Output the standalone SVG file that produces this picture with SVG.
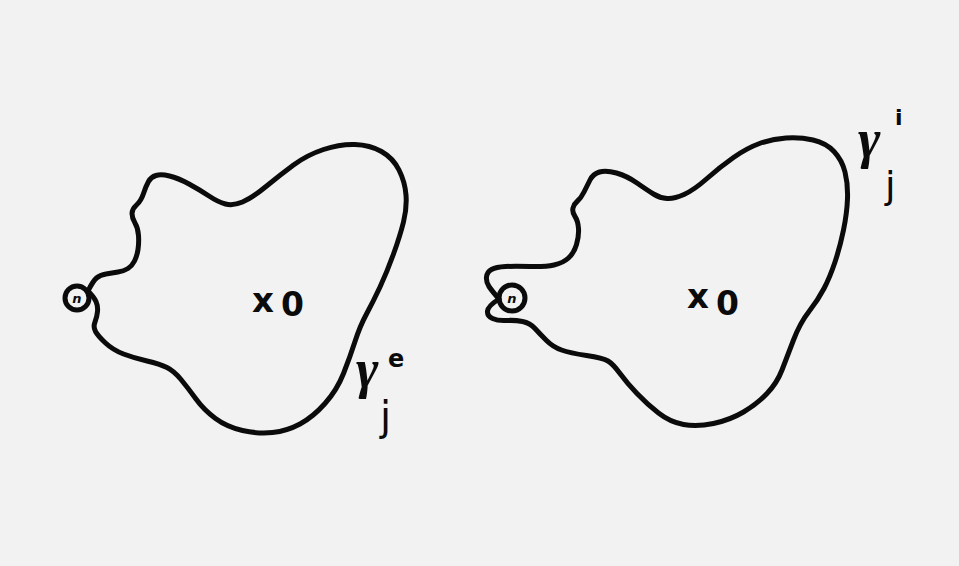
<svg xmlns="http://www.w3.org/2000/svg" width="959" height="566" viewBox="0 0 959 566">
<style>
.ink{fill:none;stroke:#0b0b0b;stroke-width:5;stroke-linecap:round;stroke-linejoin:round}
.lbl{font-family:"DejaVu Sans",sans-serif;fill:#0b0b0b}
.gam{font-family:"Liberation Serif",serif;font-style:italic;fill:#0b0b0b;font-weight:bold}
.pt{font-family:"DejaVu Sans",sans-serif;fill:#0b0b0b;font-weight:bold}
</style>
<rect x="0" y="0" width="959" height="566" fill="#f2f2f2"/>
<g id="left-figure">
<path class="ink" d="M88,291 Q93,281 96.5,278 Q100,275 106,274 Q112,273 118,272 Q124,271 128,268.5 Q132,266 134.5,261 Q137,256 138,249.5 Q139,243 138.5,235.5 Q138,228 135,223 Q132,218 132,213.5 Q132,209 136.5,205 Q141,201 143.5,193.5 Q146,186 148.5,181.5 Q151,177 156,175.5 Q161,174 169.5,176 Q178,178 189,184 Q200,190 209,196 Q218,202 225.5,204 Q233,206 242.5,202 Q252,198 266,186.5 Q280,175 293.5,165 Q307,155 323.5,149.5 Q340,144 355,144.5 Q370,145 381.5,151.5 Q393,158 399,170 Q405,182 406,195 Q407,208 403.5,222 Q400,236 393.5,254 Q387,272 380,287 Q373,302 366.5,314 Q360,326 355,341.5 Q350,357 343.5,373.5 Q337,390 325,403.5 Q313,417 300,424 Q287,431 272.5,432.5 Q258,434 242.5,430.5 Q227,427 215.5,418.5 Q204,410 196,399 Q188,388 181,379.5 Q174,371 167,367.5 Q160,364 147,361 Q134,358 123.5,354 Q113,350 105.5,343 Q98,336 95.5,331.5 Q93,327 95,322 Q97,317 97.5,311.5 Q98,306 96,301.5 Q94,297 88,291"/>
<circle class="ink" cx="77" cy="298" r="12"/>
<text class="pt" x="77" y="303" font-size="13" font-style="italic" text-anchor="middle">n</text>
<text class="pt" x="252" y="312" font-size="34">x</text>
<text class="pt" x="281" y="316" font-size="33">0</text>
<text class="gam" x="356" y="387" font-size="54">γ</text>
<text class="lbl" x="388" y="367" font-size="24" font-weight="bold">e</text>
<text class="lbl" x="380" y="430" font-size="40">j</text>
</g>
<g id="right-figure">
<path class="ink" d="M499,299 Q492,291 489,286.5 Q486,282 486.5,277 Q487,272 491.5,269.5 Q496,267 505.5,266.5 Q515,266 530,266.5 Q545,267 554,265 Q563,263 568.5,258 Q574,253 576.5,244.5 Q579,236 578.5,228.5 Q578,221 575,216.5 Q572,212 573,208 Q574,204 577.5,201 Q581,198 584,192 Q587,186 590,180 Q593,174 599.5,172 Q606,170 616.5,173 Q627,176 637,183 Q647,190 653.5,194 Q660,198 667,198.5 Q674,199 684,194.5 Q694,190 707,178.5 Q720,167 733.5,157.5 Q747,148 759.5,143.5 Q772,139 786,138 Q800,137 813,140 Q826,143 834,151.5 Q842,160 845,172 Q848,184 847.5,198.5 Q847,213 843.5,230 Q840,247 835,262 Q830,277 824,288.5 Q818,300 809,311.5 Q800,323 793.5,340 Q787,357 782,370 Q777,383 767,393.5 Q757,404 743.5,412 Q730,420 713.5,423.5 Q697,427 683.5,424.5 Q670,422 658.5,413 Q647,404 637,393.5 Q627,383 620,373.5 Q613,364 608,361 Q603,358 586.5,355.5 Q570,353 561.5,350 Q553,347 546.5,340.5 Q540,334 535,328.5 Q530,323 522.5,321.5 Q515,320 506.5,320.5 Q498,321 492.5,318.5 Q487,316 487.5,311 Q488,306 499,299"/>
<circle class="ink" cx="512" cy="298" r="13"/>
<text class="pt" x="512" y="303" font-size="13" font-style="italic" text-anchor="middle">n</text>
<text class="pt" x="687" y="308" font-size="34">x</text>
<text class="pt" x="716" y="315" font-size="33">0</text>
<text class="gam" x="858" y="157" font-size="54">γ</text>
<text class="lbl" x="895" y="125" font-size="22" font-weight="bold">i</text>
<text class="lbl" x="885" y="198" font-size="38">j</text>
</g>
</svg>
